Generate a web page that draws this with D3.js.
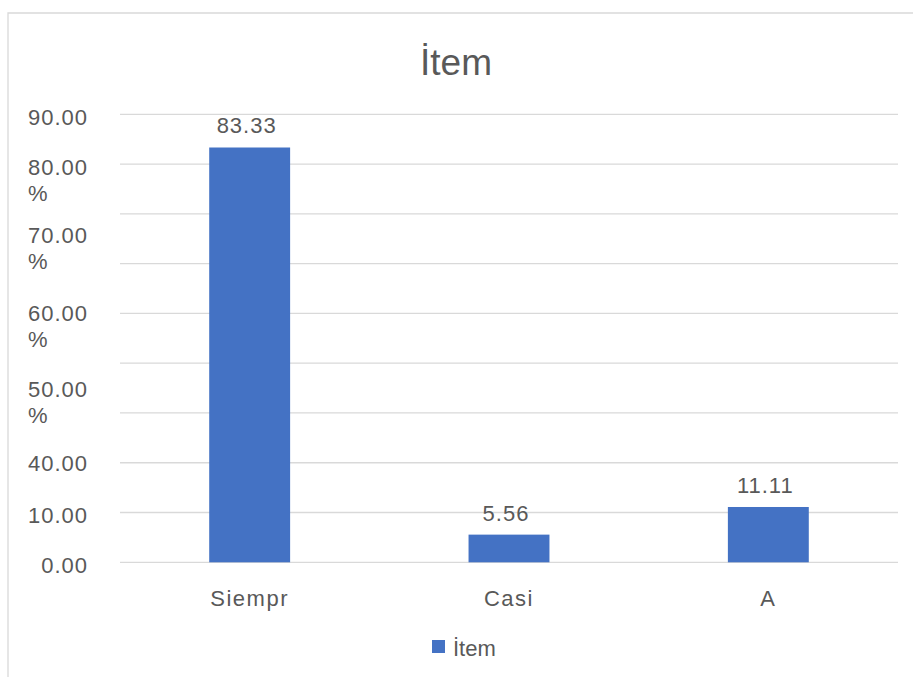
<!DOCTYPE html>
<html>
<head>
<meta charset="utf-8">
<script src="https://cdn.jsdelivr.net/npm/d3@7"></script>
<style>
html,body{margin:0;padding:0;background:#fff;}
svg text{font-family:"Liberation Sans",Arial,sans-serif;fill:#595959;}
</style>
</head>
<body>
<svg id="chart" width="913" height="677"></svg>
<script>
// ---- data ----
const title = "İtem";
const seriesName = "İtem";
const categories = ["Siempr", "Casi", "A"];
const values = [83.33, 5.56, 11.11];
const valueLabels = ["83.33", "5.56", "11.11"];
const gridValues = [0, 10, 20, 30, 40, 50, 60, 70, 80, 90];
const yTickLabels = [["0.00"], ["10.00"], ["40.00"], ["50.00", "%"], ["60.00", "%"], ["70.00", "%"], ["80.00", "%"], ["90.00"]];

// ---- layout ----
const svg = d3.select("#chart");
const W = 913, H = 677;
const plot = {left: 120, right: 898, top: 114.3, bottom: 562.3};
// where each (overlapping, Excel-wrapped) axis label's first line sits, in axis units
const yLabelFirstLine = [-0.5, 9.5, 20, 34.8, 50, 65.7, 79.4, 89.5];

// chart border
svg.append("path")
  .attr("d", `M8,${H + 2} L8,13 L${W + 2},13`)
  .attr("fill", "none").attr("stroke", "#d9d9d9").attr("stroke-width", 1.3);

const x = d3.scaleBand().domain(categories).range([plot.left, plot.right]).paddingInner(0.688).paddingOuter(0.344);
const y = d3.scaleLinear().domain([0, 90]).range([plot.bottom, plot.top]);

// gridlines
svg.append("g").selectAll("line").data(gridValues).join("line")
  .attr("x1", plot.left).attr("x2", plot.right)
  .attr("y1", d => y(d)).attr("y2", d => y(d))
  .attr("stroke", "#d9d9d9").attr("stroke-width", 1.3);

// bars
svg.append("g").selectAll("rect").data(values).join("rect")
  .attr("x", (d, i) => x(categories[i]))
  .attr("width", x.bandwidth())
  .attr("y", d => y(d))
  .attr("height", d => y(0) - y(d))
  .attr("fill", "#4472c4");

// value labels
svg.append("g").selectAll("text").data(values).join("text")
  .attr("x", (d, i) => x(categories[i]) + x.bandwidth() / 2 - 3)
  .attr("y", d => y(d) - 22)
  .attr("dy", "0.36em")
  .attr("text-anchor", "middle")
  .style("font-size", "22px").style("letter-spacing", "1px")
  .text((d, i) => valueLabels[i]);

// y axis labels
const lineGap = 26;
yTickLabels.forEach((lines, i) => {
  const yy = y(yLabelFirstLine[i]);
  lines.forEach((t, j) => {
    svg.append("text")
      .attr("x", j === 0 ? 88 : 28)
      .attr("y", yy + j * lineGap)
      .attr("dy", "0.36em")
      .attr("text-anchor", j === 0 ? "end" : "start")
      .style("font-size", "22px").style("letter-spacing", "1px")
      .text(t);
  });
});

// category labels
svg.append("g").selectAll("text").data(categories).join("text")
  .attr("x", d => x(d) + x.bandwidth() / 2)
  .attr("y", 598)
  .attr("dy", "0.36em")
  .attr("text-anchor", "middle")
  .style("font-size", "22px").style("letter-spacing", "1.5px")
  .text(d => d);

// title
svg.append("text")
  .attr("x", 456).attr("y", 62).attr("dy", "0.36em")
  .attr("text-anchor", "middle")
  .style("font-size", "37px")
  .text(title);

// legend
const lg = svg.append("g");
lg.append("rect").attr("x", 432).attr("y", 640).attr("width", 13).attr("height", 13).attr("fill", "#4472c4");
lg.append("text").attr("x", 453).attr("y", 648).attr("dy", "0.36em")
  .style("font-size", "22px").text(seriesName);
</script>
</body>
</html>
